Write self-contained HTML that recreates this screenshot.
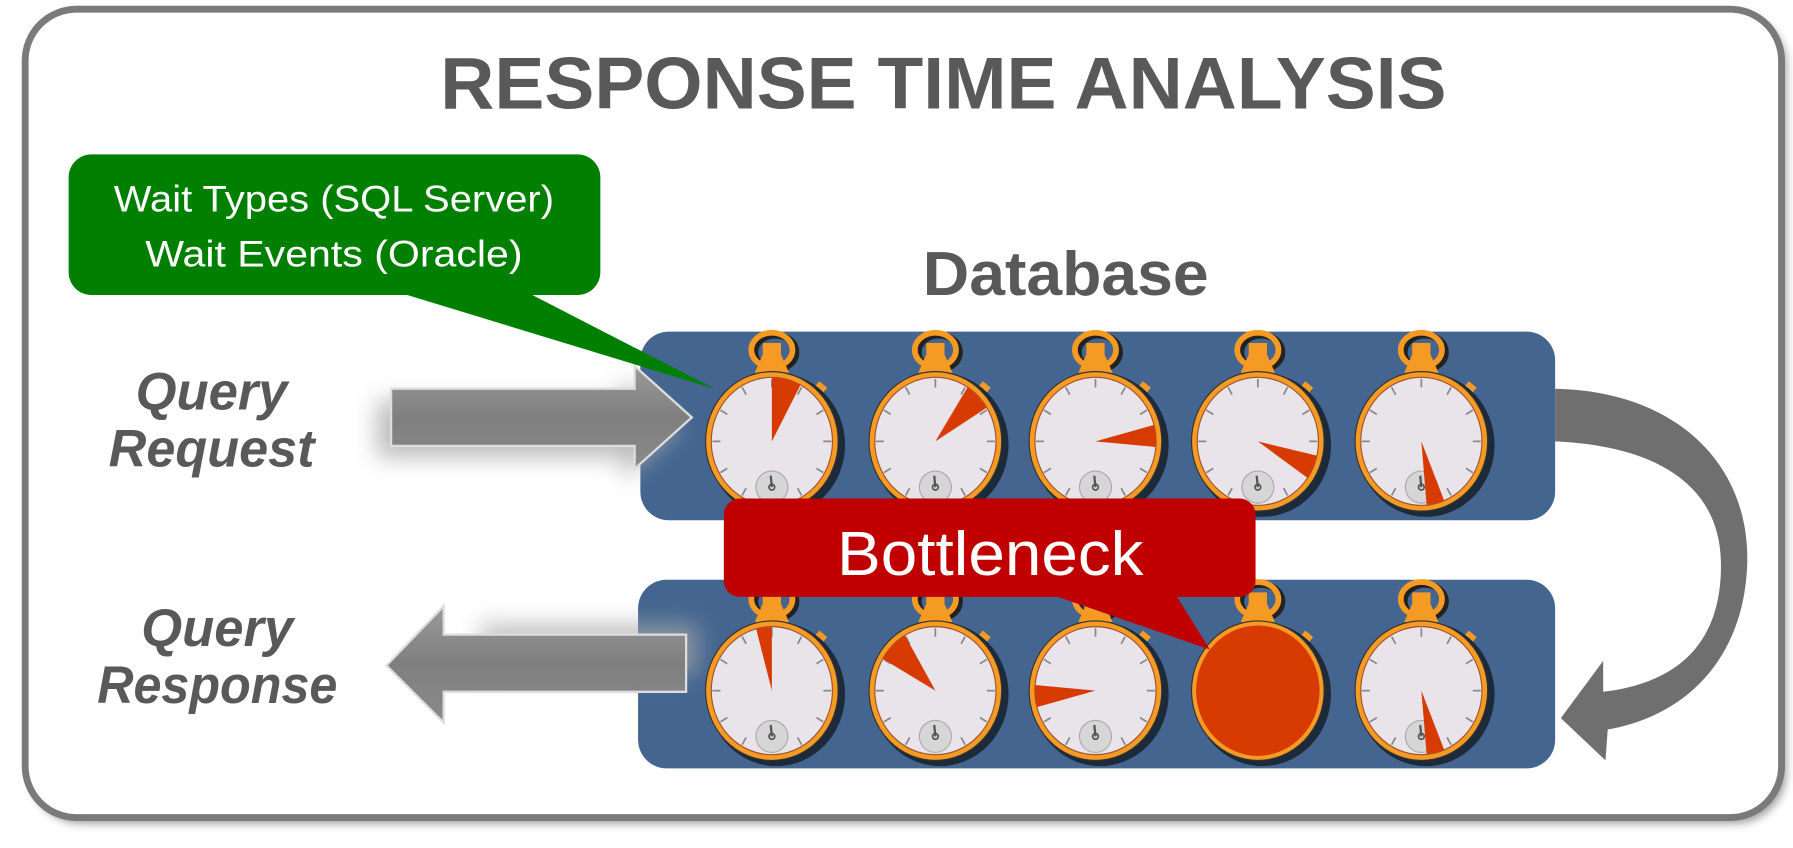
<!DOCTYPE html>
<html><head><meta charset="utf-8"><style>
html,body{margin:0;padding:0;background:#fff;}
svg{display:block}
text{font-family:"Liberation Sans",sans-serif}
</style></head><body>
<svg id="s" width="1793" height="848" viewBox="0 0 1568 741.6" xmlns="http://www.w3.org/2000/svg">
<defs>
<filter id="sh" x="-10%" y="-10%" width="120%" height="120%"><feGaussianBlur stdDeviation="4"/></filter>
<filter id="bl" x="-30%" y="-30%" width="160%" height="160%"><feGaussianBlur stdDeviation="10"/></filter>
<linearGradient id="ag" x1="0" y1="0" x2="0" y2="1"><stop offset="0" stop-color="#9a9a9a"/><stop offset="0.5" stop-color="#7f7f7f"/><stop offset="1" stop-color="#8a8a8a"/></linearGradient>
</defs>
<rect x="26" y="12" width="1536" height="708" rx="45" fill="#999" filter="url(#sh)"/>
<rect x="22" y="8" width="1536" height="707" rx="45" fill="#fff" stroke="#7a7a7a" stroke-width="6"/>
<text x="825" y="95" text-anchor="middle" font-size="64" font-weight="bold" fill="#595959" textLength="880" lengthAdjust="spacingAndGlyphs">RESPONSE TIME ANALYSIS</text>

<text x="932" y="258" text-anchor="middle" font-size="54" font-weight="bold" fill="#595959" textLength="250" lengthAdjust="spacingAndGlyphs">Database</text>

<g font-style="italic" font-weight="bold" font-size="46" fill="#595959" text-anchor="middle">
<text x="185" y="358">Query</text><text x="185" y="408" textLength="180" lengthAdjust="spacingAndGlyphs">Request</text>
<text x="190" y="565">Query</text><text x="190" y="615" textLength="210" lengthAdjust="spacingAndGlyphs">Response</text>
</g>

<!-- panels -->
<rect x="560" y="290" width="800" height="165" rx="25" fill="#43658f"/>
<rect x="558" y="507" width="802" height="165" rx="25" fill="#43658f"/>

<!-- arrows -->
<path d="M330 350 H545 V330 L595 375 L545 420 V400 H330Z" fill="#aaa" filter="url(#bl)" opacity="0.8"/>
<path d="M342 340 H555 V320 L605 365 L555 410 V390 H342Z" fill="url(#ag)" stroke="#ddd" stroke-width="2"/>
<path d="M420 520 V545 H610 V590 H420 V610Z" fill="#aaa" filter="url(#bl)" opacity="0.7"/>
<path d="M388 530 V555 H600 V605 H388 V632 L338 582Z" fill="url(#ag)" stroke="#ddd" stroke-width="2"/>

<!-- curved arrow -->
<path d="M1360 340 C1465 342 1530 405 1528 492 C1526 570 1480 625 1406 638 L1404 665 L1365 628 L1402 578 L1402 605 C1470 597 1506 560 1505 492 C1504 425 1450 390 1360 386 Z" fill="#6f6f6f"/>

<g id="w"></g>

<!-- green callout -->
<path d="M330 250 L625 340 L450 250Z" fill="#007f00"/>
<rect x="60" y="135" width="465" height="123" rx="20" fill="#007f00"/>
<text x="292" y="185" text-anchor="middle" font-size="32" fill="#fff" textLength="385" lengthAdjust="spacingAndGlyphs">Wait Types (SQL Server)</text>
<text x="292" y="233" text-anchor="middle" font-size="32" fill="#fff" textLength="330" lengthAdjust="spacingAndGlyphs">Wait Events (Oracle)</text>

<!-- red callout -->
<path d="M905 515 L1058 568 L1025 515Z" fill="#c00000"/>
<rect x="633" y="436" width="465" height="86" rx="14" fill="#c00000"/>
<text x="866" y="503" text-anchor="middle" font-size="54" fill="#fff" textLength="268" lengthAdjust="spacingAndGlyphs">Bottleneck</text>
</svg>
<script>
(function(){
var g=document.getElementById('w'),h='';
function P(cx,cy,r,a){a=a*Math.PI/180;return [(cx+r*Math.sin(a)).toFixed(1),(cy-r*Math.cos(a)*1.05).toFixed(1)];}
function watch(cx,cy,a1,a2,full){
 var r=58,ry=61;
 h+='<ellipse cx="'+(cx+3)+'" cy="'+(cy-78)+'" rx="18" ry="15" fill="none" stroke="#222" stroke-width="6"/>';
 h+='<ellipse cx="'+cx+'" cy="'+(cy-80)+'" rx="18" ry="15" fill="none" stroke="#f59a23" stroke-width="5"/>';
 h+='<path d="M'+(cx-8)+' '+(cy-86)+'h16v10l7 16h-30l7-16z" fill="#f59a23"/>';
 h+='<rect x="'+(cx+38)+'" y="'+(cy-51)+'" width="9" height="9" fill="#f59a23" transform="rotate(40 '+(cx+42)+' '+(cy-47)+')"/>';
 h+='<ellipse cx="'+(cx+4)+'" cy="'+(cy+3)+'" rx="'+(r+2)+'" ry="'+(ry+2)+'" fill="#1d2a3a"/>';
 h+='<ellipse cx="'+cx+'" cy="'+cy+'" rx="'+r+'" ry="'+ry+'" fill="#f59a23" stroke="#333" stroke-width="1"/>';
 if(full){h+='<ellipse cx="'+cx+'" cy="'+cy+'" rx="'+(r-4)+'" ry="'+(ry-4)+'" fill="#d83b01"/>';return;}
 h+='<ellipse cx="'+cx+'" cy="'+cy+'" rx="'+(r-5)+'" ry="'+(ry-5)+'" fill="#e8e4ea" stroke="#a0522d" stroke-width="1"/>';
 for(var i=0;i<12;i++){var a=P(cx,cy,r-6,i*30),b=P(cx,cy,r-13,i*30);h+='<line x1="'+a[0]+'" y1="'+a[1]+'" x2="'+b[0]+'" y2="'+b[1]+'" stroke="#888" stroke-width="1.5"/>';}
 h+='<circle cx="'+cx+'" cy="'+(cy+40)+'" r="14" fill="#d6d6d6" stroke="#aaa"/>';
 h+='<line x1="'+cx+'" y1="'+(cy+40)+'" x2="'+(cx-1)+'" y2="'+(cy+30)+'" stroke="#555" stroke-width="2"/>';
 h+='<circle cx="'+cx+'" cy="'+(cy+40)+'" r="2.5" fill="none" stroke="#555" stroke-width="1.5"/>';
 var p1=P(cx,cy,r-5,a1),p2=P(cx,cy,r-5,a2);
 h+='<path d="M'+cx+' '+cy+' L'+p1[0]+' '+p1[1]+' A'+(r-5)+' '+(ry-5)+' 0 0 1 '+p2[0]+' '+p2[1]+'Z" fill="#d83b01"/>';
}
var xs=[675,818,958,1100,1243];
var tp=[[0,28],[32,58],[75,95],[103,125],[158,175]];
var bt=[[345,360],[300,330],[255,275],null,[158,175]];
for(var i=0;i<5;i++){watch(xs[i],386,tp[i][0],tp[i][1]);}
for(var i=0;i<5;i++){if(bt[i])watch(xs[i],604,bt[i][0],bt[i][1]);else watch(xs[i],604,0,0,true);}
g.innerHTML=h;
})();
</script>
</body></html>
